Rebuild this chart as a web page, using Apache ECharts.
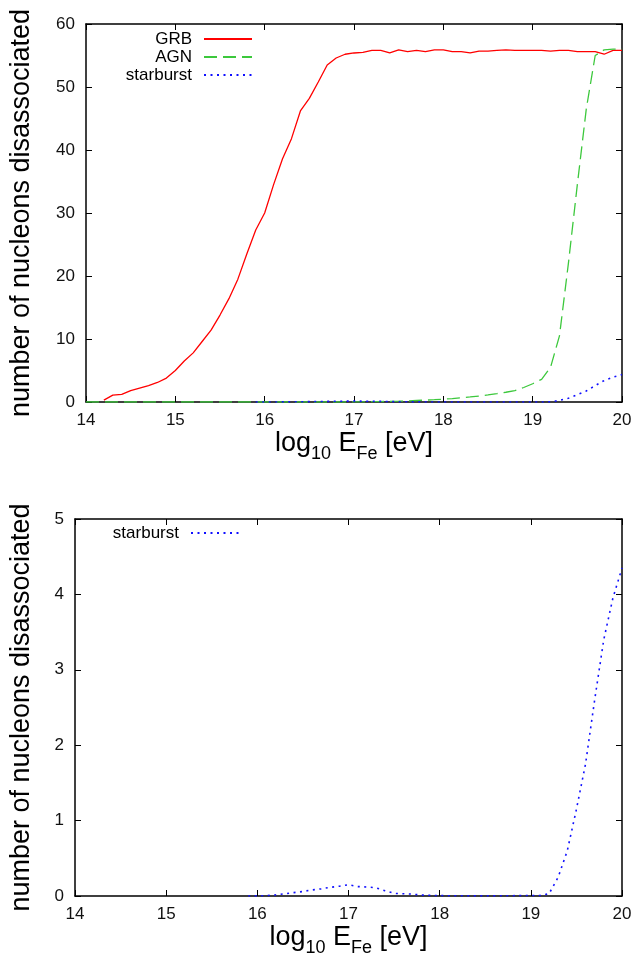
<!DOCTYPE html>
<html>
<head>
<meta charset="utf-8">
<script src="https://cdn.jsdelivr.net/npm/echarts@6/dist/echarts.min.js"></script>
<style>
html,body{margin:0;padding:0;background:#fff;}
#chart{width:636px;height:954px;}
</style>
</head>
<body>
<div id="chart"></div>
<script>
// ---- data ----
var grbX = [14.2,14.3,14.4,14.5,14.6,14.7,14.8,14.9,15.0,15.1,15.2,15.3,15.4,15.5,15.6,15.7,15.8,15.9,16.0,16.1,16.2,16.3,16.4,16.5,16.6,16.7,16.8,16.9,17.0,17.1,17.2,17.3,17.4,17.5,17.6,17.7,17.8,17.9,18.0,18.1,18.2,18.3,18.4,18.5,18.6,18.7,18.8,18.9,19.0,19.1,19.2,19.3,19.4,19.5,19.6,19.7,19.8,19.9,20.0];
var grbY = [0.3,1.1,1.2,1.8,2.2,2.6,3.1,3.8,5.0,6.5,7.8,9.6,11.4,13.8,16.4,19.5,23.5,27.3,30.0,34.5,38.6,41.8,46.2,48.2,50.8,53.5,54.6,55.2,55.4,55.5,55.8,55.8,55.4,55.9,55.6,55.8,55.6,55.9,55.9,55.6,55.6,55.4,55.7,55.7,55.8,55.9,55.8,55.8,55.8,55.8,55.7,55.8,55.8,55.6,55.6,55.6,55.2,55.8,55.8];

var agnX = [14.0,14.1,14.2,14.3,14.4,14.5,14.6,14.7,14.8,14.9,15.0,15.1,15.2,15.3,15.4,15.5,15.6,15.7,15.8,15.9,16.0,16.1,16.2,16.3,16.4,16.5,16.6,16.7,16.8,16.9,17.0,17.1,17.2,17.3,17.4,17.5,17.6,17.7,17.8,17.9,18.0,18.1,18.2,18.3,18.4,18.5,18.6,18.7,18.8,18.9,19.0,19.1,19.2,19.3,19.4,19.5,19.6,19.7,19.8,19.9,20.0];
var agnY = [0,0,0,0,0,0,0,0,0,0,0,0,0,0,0,0,0,0,0,0,0,0,0,0,0,0,0,0,0,0,0.02,0.03,0.05,0.07,0.1,0.13,0.18,0.24,0.3,0.37,0.45,0.55,0.66,0.8,0.95,1.12,1.33,1.55,1.8,2.3,2.9,3.6,5.5,10.5,22.0,34.5,46.5,55.0,55.9,56.0,56.0];

var sbX = [15.9,16.0,16.1,16.2,16.3,16.4,16.5,16.6,16.7,16.8,16.9,17.0,17.1,17.2,17.3,17.4,17.5,17.6,17.7,17.8,17.9,18.0,18.1,18.2,18.3,18.4,18.5,18.6,18.7,18.8,18.9,19.0,19.1,19.2,19.3,19.4,19.5,19.6,19.7,19.8,19.9,20.0];
var sbY = [0,0.002,0.005,0.015,0.03,0.045,0.06,0.08,0.095,0.115,0.13,0.15,0.125,0.12,0.11,0.07,0.035,0.03,0.025,0.012,0.008,0.006,0.004,0.003,0.002,0.002,0.002,0.002,0.003,0.004,0.006,0.006,0.006,0.03,0.25,0.6,1.15,1.75,2.6,3.4,3.95,4.35];

var seriesNames = ['GRB','AGN','starburst'];
var xTicks = [14,15,16,17,18,19,20];
var yTicksTop = [0,10,20,30,40,50,60];
var yTicksBottom = [0,1,2,3,4,5];

function pairs(xs, ys){ return xs.map(function(x,i){ return [x, ys[i]]; }); }

var FONT = '"Liberation Sans", Arial, sans-serif';
var xTitle = '{a|log}{s|10}{a| E}{s|Fe}{a| [eV]}';
var titleRich = {
  a: {fontSize: 27, fontFamily: FONT, color: '#000', verticalAlign: 'top', lineHeight: 30},
  s: {fontSize: 18, fontFamily: FONT, color: '#000', verticalAlign: 'top', lineHeight: 20, padding: [15,0,0,0]}
};

function xAxes(gridIndex, gap){
  return [{
    type: 'value', gridIndex: gridIndex, position: 'bottom',
    min: xTicks[0], max: xTicks[xTicks.length-1], interval: 1,
    axisLine: {show: true, onZero: false, lineStyle: {color: '#000', width: 1.5}},
    axisTick: {show: true, inside: true, length: 6, lineStyle: {color: '#000'}},
    axisLabel: {fontSize: 17, fontFamily: FONT, color: '#111', margin: 10},
    splitLine: {show: false},
    name: xTitle, nameLocation: 'middle', nameGap: gap,
    nameTextStyle: {rich: titleRich}
  },{
    type: 'value', gridIndex: gridIndex, position: 'top',
    min: xTicks[0], max: xTicks[xTicks.length-1], interval: 1,
    axisLine: {show: true, onZero: false, lineStyle: {color: '#000', width: 1.5}},
    axisTick: {show: true, inside: true, length: 6, lineStyle: {color: '#000'}},
    axisLabel: {show: false}, splitLine: {show: false}
  }];
}
function yAxes(gridIndex, ticks, gap){
  var mn = ticks[0], mx = ticks[ticks.length-1], iv = ticks[1]-ticks[0];
  return [{
    type: 'value', gridIndex: gridIndex, position: 'left',
    min: mn, max: mx, interval: iv,
    axisLine: {show: true, onZero: false, lineStyle: {color: '#000', width: 1.5}},
    axisTick: {show: true, inside: true, length: 6, lineStyle: {color: '#000'}},
    axisLabel: {fontSize: 17, fontFamily: FONT, color: '#111', margin: 11},
    splitLine: {show: false},
    name: 'number of nucleons disassociated', nameLocation: 'middle', nameGap: gap, nameRotate: 90,
    nameTextStyle: {fontSize: 27, fontFamily: FONT, color: '#000'}
  },{
    type: 'value', gridIndex: gridIndex, position: 'right',
    min: mn, max: mx, interval: iv,
    axisLine: {show: true, onZero: false, lineStyle: {color: '#000', width: 1.5}},
    axisTick: {show: true, inside: true, length: 6, lineStyle: {color: '#000'}},
    axisLabel: {show: false}, splitLine: {show: false}
  }];
}

var styles = {
  GRB: {color: '#ff0000', width: 1.3, type: 'solid'},
  AGN: {color: '#3cc83c', width: 1.3, type: [13,6]},
  starburst: {color: '#1010ff', width: 1.6, type: [2,4.5]}
};
function mkSeries(name, data, xi, yi){
  var st = styles[name];
  return {
    type: 'line', name: name, data: data, xAxisIndex: xi, yAxisIndex: yi,
    symbol: 'none', showSymbol: false, animation: false, clip: true,
    color: st.color,
    lineStyle: {color: st.color, width: st.width, type: st.type}
  };
}
function mkLegend(name, top, right){
  return {
    data: [name], orient: 'vertical', align: 'right', top: top, right: right,
    padding: 0, itemWidth: 48, itemHeight: 14, selectedMode: false,
    itemStyle: {opacity: 0},
    textStyle: {fontSize: 17, fontFamily: FONT, color: '#000', lineHeight: 18, padding: [0,7,0,0]}
  };
}

var chart = echarts.init(document.getElementById('chart'), null, {renderer: 'canvas'});
chart.setOption({
  backgroundColor: '#fff',
  animation: false,
  grid: [
    {left: 86, top: 24, width: 536, height: 378, containLabel: false, outerBoundsMode: 'none'},
    {left: 75, top: 519, width: 547, height: 377, containLabel: false, outerBoundsMode: 'none'}
  ],
  xAxis: xAxes(0, 25).concat(xAxes(1, 28)),
  yAxis: yAxes(0, yTicksTop, 51).concat(yAxes(1, yTicksBottom, 40)),
  legend: [
    mkLegend(seriesNames[0], 30, 383),
    mkLegend(seriesNames[1], 48, 383),
    mkLegend(seriesNames[2], 66, 383),
    mkLegend(seriesNames[2], 524, 396)
  ],
  series: [
    mkSeries('GRB', pairs(grbX, grbY), 0, 0),
    mkSeries('AGN', pairs(agnX, agnY), 0, 0),
    mkSeries('starburst', pairs(sbX, sbY), 0, 0),
    mkSeries('starburst', pairs(sbX, sbY), 2, 2)
  ]
});
</script>
</body>
</html>
